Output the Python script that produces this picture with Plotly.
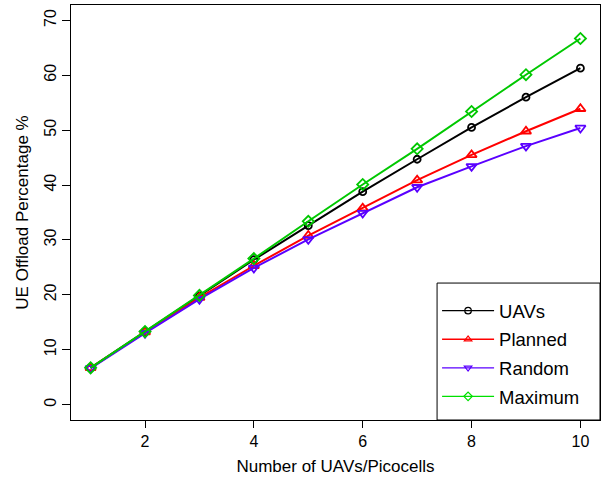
import plotly.graph_objects as go

x_vals = [1, 2, 3, 4, 5, 6, 7, 8, 9, 10]
uavs = [6.7, 13.3, 19.8, 26.4, 32.6, 38.8, 44.7, 50.5, 56.0, 61.3]
planned = [6.7, 13.2, 19.5, 25.3, 30.8, 35.8, 40.9, 45.5, 49.8, 53.9]
random_ = [6.6, 13.0, 19.2, 24.9, 30.1, 34.9, 39.6, 43.4, 47.1, 50.4]
maximum = [6.7, 13.3, 19.9, 26.6, 33.4, 40.1, 46.6, 53.4, 60.1, 66.7]

series_names = ["UAVs", "Planned", "Random", "Maximum"]
series_vals = [uavs, planned, random_, maximum]
plot_colors = ["#000000", "#FF0000", "#5A00FF", "#00C800"]
legend_colors = ["#000000", "#FF0000", "#5A00FF", "#00E000"]
symbols = ["circle-open", "triangle-up-open", "triangle-down-open", "diamond-open"]
marker_sizes = [7, 9, 9, 8.5]

x_ticks = [2, 4, 6, 8, 10]
y_ticks = [0, 10, 20, 30, 40, 50, 60, 70]

FONT = "Liberation Sans, Arial, sans-serif"

fig = go.Figure()
for name, vals, col, sym, ms in zip(series_names, series_vals, plot_colors, symbols, marker_sizes):
    fig.add_trace(go.Scatter(
        x=x_vals, y=vals, mode="lines+markers", name=name, showlegend=False,
        line=dict(color=col, width=2),
        marker=dict(symbol=sym, size=ms, color=col, line=dict(color=col, width=1.8)),
    ))
for name, col, sym in zip(series_names, legend_colors, symbols):
    fig.add_trace(go.Scatter(
        x=[None], y=[None], mode="lines+markers", name=name, legendgroup=name,
        line=dict(color=col, width=1.3),
        marker=dict(symbol=sym, size=6.5, color=col, line=dict(color=col, width=1.2)),
    ))

# legend frame (R-style box in lower right corner)
fig.add_shape(type="rect", xref="paper", yref="paper",
              x0=0.692, x1=1.0, y0=0.0, y1=0.330,
              line=dict(color="black", width=1), fillcolor="white", layer="above")

fig.update_layout(
    width=605, height=478,
    margin=dict(l=71, r=5, t=5, b=58),
    paper_bgcolor="white", plot_bgcolor="white",
    font=dict(family=FONT, size=16, color="black"),
    xaxis=dict(
        range=[0.64, 10.36], tickvals=x_ticks, ticks="outside", ticklen=7,
        tickwidth=1, tickcolor="black", showgrid=False, zeroline=False,
        showline=True, mirror=True, linecolor="black", linewidth=1,
        title=dict(text="Number of UAVs/Picocells", font=dict(size=17), standoff=10),
        tickfont=dict(size=16),
    ),
    yaxis=dict(
        range=[-2.8, 72.8], tickvals=y_ticks, ticks="outside", ticklen=8,
        tickwidth=1, tickcolor="black", showgrid=False, zeroline=False,
        showline=True, mirror=True, linecolor="black", linewidth=1,
        tickangle=-90,
        title=dict(text="UE Offload Percentage %", font=dict(size=17), standoff=8),
        tickfont=dict(size=16),
    ),
    legend=dict(
        x=0.692, xanchor="left", y=0.308, yanchor="top",
        borderwidth=0, bgcolor="rgba(0,0,0,0)",
        font=dict(size=18.5), tracegroupgap=1.5, itemwidth=52,
    ),
)

fig.write_html("out.html")
